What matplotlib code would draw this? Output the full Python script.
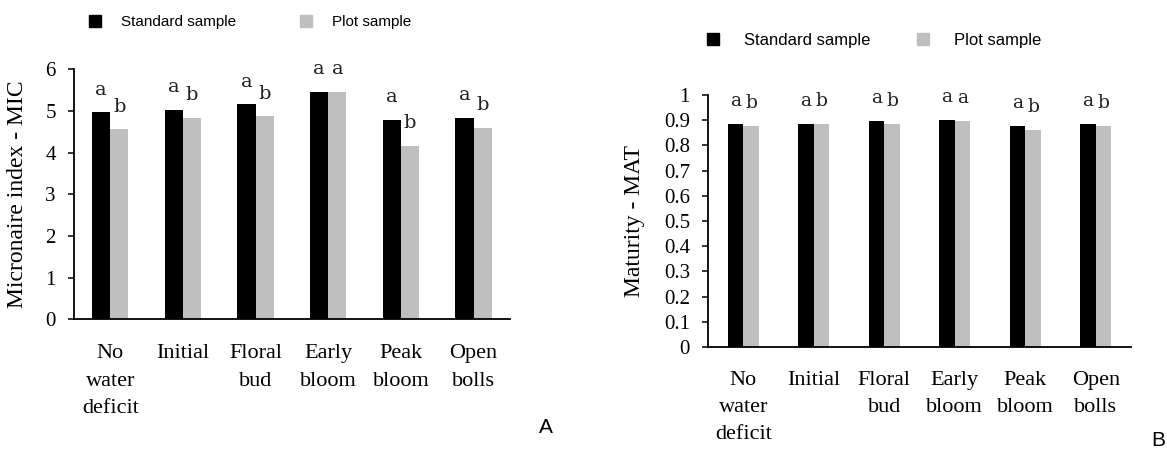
import matplotlib
matplotlib.use("Agg")
import matplotlib.pyplot as plt
from matplotlib.lines import Line2D
import numpy as np

plt.rcParams['font.family'] = ['Liberation Serif', 'DejaVu Serif']

# Data
categories = ["No\nwater\ndeficit", "Initial", "Floral\nbud", "Early\nbloom", "Peak\nbloom", "Open\nbolls"]
mic_standard = [4.97, 5.03, 5.17, 5.46, 4.79, 4.84]
mic_plot = [4.56, 4.84, 4.88, 5.46, 4.17, 4.60]
mic_letters_std = ["a", "a", "a", "a", "a", "a"]
mic_letters_plot = ["b", "b", "b", "a", "b", "b"]

mat_standard = [0.886, 0.886, 0.895, 0.902, 0.878, 0.886]
mat_plot = [0.878, 0.886, 0.886, 0.895, 0.862, 0.878]
mat_letters_std = ["a", "a", "a", "a", "a", "a"]
mat_letters_plot = ["b", "b", "b", "a", "b", "b"]

series_names = ["Standard sample", "Plot sample"]
black = "#000000"
gray = "#bfbfbf"

fig = plt.figure(figsize=(11.67, 4.51), dpi=100)
axA = fig.add_axes([0.0634, 0.2916, 0.3736, 0.5543])
axB = fig.add_axes([0.6067, 0.2306, 0.3625, 0.5588])


def draw_panel(ax, std, plot, let_std, let_plot, width, ylim, yticks, ytl, ylabel,
               letter_off, letter_size, tick_size, label_coords, xpad):
    x = np.arange(len(categories))
    ax.bar(x - width / 2, std, width, color=black)
    ax.bar(x + width / 2, plot, width, color=gray)
    for xi, v, t in zip(x, std, let_std):
        ax.text(xi - width / 2, v + letter_off, t, ha='center', va='baseline',
                fontsize=letter_size, family='DejaVu Serif', color='#222222')
    for xi, v, t in zip(x, plot, let_plot):
        ax.text(xi + width / 2, v + letter_off, t, ha='center', va='baseline',
                fontsize=letter_size, family='DejaVu Serif', color='#222222')
    ax.set_xlim(-0.5, len(categories) - 0.5)
    ax.set_ylim(*ylim)
    ax.set_yticks(yticks)
    ax.set_yticklabels(ytl, fontsize=tick_size)
    ax.set_xticks(x)
    ax.set_xticklabels(categories, fontsize=16, linespacing=1.6)
    ax.tick_params(axis='x', length=0, pad=xpad)
    ax.tick_params(axis='y', direction='out', length=4, width=1.1, pad=9)
    for s in ['top', 'right']:
        ax.spines[s].set_visible(False)
    for s in ['left', 'bottom']:
        ax.spines[s].set_linewidth(1.3)
    ax.set_ylabel(ylabel, fontsize=17)
    ax.yaxis.set_label_coords(*label_coords)


draw_panel(axA, mic_standard, mic_plot, mic_letters_std, mic_letters_plot, 0.25,
           (0, 6), np.arange(0, 7, 1), [str(v) for v in range(7)],
           "Micronaire index - MIC", 0.42, 14, 15, (-0.106, 0.5), 18)

mat_ticks = np.round(np.arange(0, 1.01, 0.1), 1)
mat_tl = ["0"] + [f"{v:.1f}" for v in mat_ticks[1:-1]] + ["1"]
draw_panel(axB, mat_standard, mat_plot, mat_letters_std, mat_letters_plot, 0.22,
           (0, 1), mat_ticks, mat_tl,
           "Maturity - MAT", 0.072, 13.5, 15, (-0.149, 0.5), 17)

# legends
def make_handles(ms):
    return [Line2D([], [], marker='s', ls='', color=black, markersize=ms),
            Line2D([], [], marker='s', ls='', color=gray, markersize=ms)]

legA = axA.legend(make_handles(8.5), series_names, loc='center left',
                  bbox_to_anchor=(0.0749, 0.951), bbox_transform=fig.transFigure,
                  ncol=2, frameon=False, borderpad=0, borderaxespad=0,
                  handlelength=1.0, handletextpad=1.2, columnspacing=4.05,
                  prop={'family': 'Liberation Sans', 'size': 11})

legB = axB.legend(make_handles(8.5), series_names, loc='center left',
                  bbox_to_anchor=(0.6036, 0.911), bbox_transform=fig.transFigure,
                  ncol=2, frameon=False, borderpad=0, borderaxespad=0,
                  handlelength=1.0, handletextpad=1.36, columnspacing=2.68,
                  prop={'family': 'Liberation Sans', 'size': 12})

fig.text(0.468, 0.053, "A", ha='center', va='center', fontsize=15, family='Liberation Sans')
fig.text(0.9985, 0.024, "B", ha='right', va='center', fontsize=15, family='Liberation Sans')

fig.savefig("out.png", dpi=100)
